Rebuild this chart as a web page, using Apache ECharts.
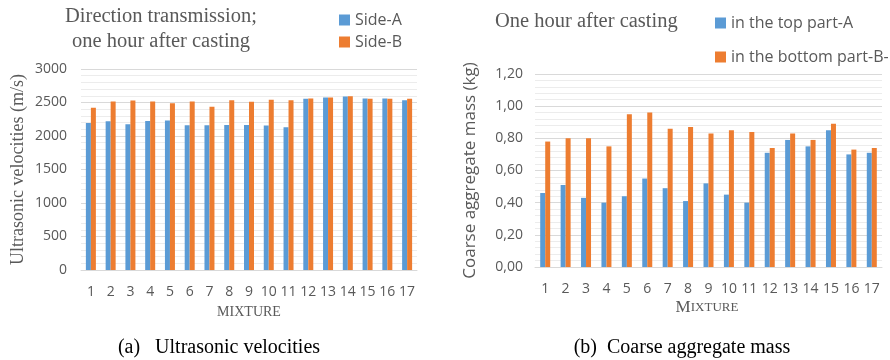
<!DOCTYPE html>
<html><head><meta charset="utf-8">
<script src="https://cdn.jsdelivr.net/npm/echarts@6/dist/echarts.min.js"></script>
<style>html,body{margin:0;padding:0;background:#fff}#c{width:890px;height:360px}</style>
</head><body><div id="c"></div>
<script>
const mixtures = ['1','2','3','4','5','6','7','8','9','10','11','12','13','14','15','16','17'];
const sideA = [2195,2220,2175,2225,2230,2160,2160,2165,2165,2155,2130,2555,2575,2590,2560,2560,2535];
const sideB = [2420,2515,2530,2515,2490,2515,2435,2535,2510,2540,2535,2560,2575,2595,2555,2555,2555];
const topPartA = [0.46,0.51,0.43,0.40,0.44,0.55,0.49,0.41,0.52,0.45,0.40,0.71,0.79,0.75,0.85,0.70,0.71];
const bottomPartB = [0.78,0.80,0.80,0.75,0.95,0.96,0.86,0.87,0.83,0.85,0.84,0.74,0.83,0.79,0.89,0.73,0.74];

const BLUE = '#5B9BD5', ORANGE = '#ED7D31', GRAY = '#595959';
const serif = '"Liberation Serif", "DejaVu Serif", serif';
const sans = '"Open Sans", "Liberation Sans", sans-serif';

const chart = echarts.init(document.getElementById('c'));
const catAxis = (gi) => ({
  type: 'category', gridIndex: gi, data: mixtures,
  axisLine: {lineStyle: {color: '#d9d9d9'}}, axisTick: {show: false},
  axisLabel: {color: GRAY, fontFamily: sans, fontSize: 14, margin: 15, interval: 0}
});
chart.setOption({
  animation: false,
  textStyle: {fontFamily: sans},
  grid: [
    {left: 81, top: 69, width: 336, height: 201},
    {left: 535, top: 74, width: 347, height: 193}
  ],
  xAxis: [catAxis(0), catAxis(1)],
  yAxis: [
    {type: 'value', gridIndex: 0, min: 0, max: 3000, interval: 500,
     name: 'Ultrasonic velocities (m/s)', nameLocation: 'middle', nameGap: 54,
     nameTextStyle: {fontFamily: serif, fontSize: 18, color: GRAY},
     axisLabel: {color: GRAY, fontFamily: sans, fontSize: 14, margin: 14, formatter: v => String(v)},
     axisLine: {show: false}, axisTick: {show: false},
     splitLine: {lineStyle: {color: '#d9d9d9'}},
     minorTick: {show: false, splitNumber: 5},
     minorSplitLine: {show: true, lineStyle: {color: '#ececec'}}},
    {type: 'value', gridIndex: 1, min: 0, max: 1.2, interval: 0.2,
     name: 'Coarse aggregate mass (kg)', nameLocation: 'middle', nameGap: 56,
     nameTextStyle: {fontFamily: sans, fontSize: 17, color: GRAY},
     axisLabel: {color: GRAY, fontFamily: sans, fontSize: 14, margin: 12,
       formatter: v => v.toFixed(2).replace('.', ',')},
     axisLine: {show: false}, axisTick: {show: false},
     splitLine: {lineStyle: {color: '#d9d9d9'}},
     minorTick: {show: false, splitNumber: 5},
     minorSplitLine: {show: true, lineStyle: {color: '#ececec'}}}
  ],
  legend: [
    {data: ['Side-A', 'Side-B'], orient: 'vertical', left: 334, top: 7, itemGap: 6,
     itemWidth: 11, itemHeight: 11, icon: 'rect',
     textStyle: {color: GRAY, fontFamily: sans, fontSize: 16}},
    {data: ['in the top part-A', 'in the bottom part-B-'], orient: 'vertical', left: 710, top: 10, itemGap: 18,
     itemWidth: 11, itemHeight: 11, icon: 'rect',
     textStyle: {color: GRAY, fontFamily: sans, fontSize: 16}}
  ],
  series: [
    {name: 'Side-A', type: 'bar', xAxisIndex: 0, yAxisIndex: 0, data: sideA, barWidth: 5, barGap: '0%', itemStyle: {color: BLUE}},
    {name: 'Side-B', type: 'bar', xAxisIndex: 0, yAxisIndex: 0, data: sideB, barWidth: 5, barGap: '0%', itemStyle: {color: ORANGE}},
    {name: 'in the top part-A', type: 'bar', xAxisIndex: 1, yAxisIndex: 1, data: topPartA, barWidth: 5, barGap: '0%', itemStyle: {color: BLUE}},
    {name: 'in the bottom part-B-', type: 'bar', xAxisIndex: 1, yAxisIndex: 1, data: bottomPartB, barWidth: 5, barGap: '0%', itemStyle: {color: ORANGE}}
  ],
  graphic: [
    {type: 'text', x: 161, y: 17, style: {text: 'Direction transmission;', font: '20.5px ' + serif, fill: GRAY, align: 'center', verticalAlign: 'middle'}},
    {type: 'text', x: 161, y: 42, style: {text: 'one hour after casting', font: '20.5px ' + serif, fill: GRAY, align: 'center', verticalAlign: 'middle'}},
    {type: 'text', x: 495, y: 22, style: {text: 'One hour after casting', font: '20.5px ' + serif, fill: GRAY, verticalAlign: 'middle'}},
    {type: 'text', x: 249, y: 312, style: {text: 'MIXTURE', font: '14px ' + serif, fill: GRAY, align: 'center', verticalAlign: 'middle'}},
    {type: 'text', x: 707, y: 308, style: {text: '{a|M}{b|IXTURE}', align: 'center', verticalAlign: 'middle', fill: GRAY,
      rich: {a: {font: '17px ' + serif, fill: GRAY}, b: {font: '13px ' + serif, fill: GRAY}}}},
    {type: 'text', x: 219, y: 348, style: {text: '(a)   Ultrasonic velocities', font: '20px ' + serif, fill: '#000', align: 'center', verticalAlign: 'middle'}},
    {type: 'text', x: 682, y: 348, style: {text: '(b)  Coarse aggregate mass', font: '20px ' + serif, fill: '#000', align: 'center', verticalAlign: 'middle'}}
  ]
});
</script></body></html>
